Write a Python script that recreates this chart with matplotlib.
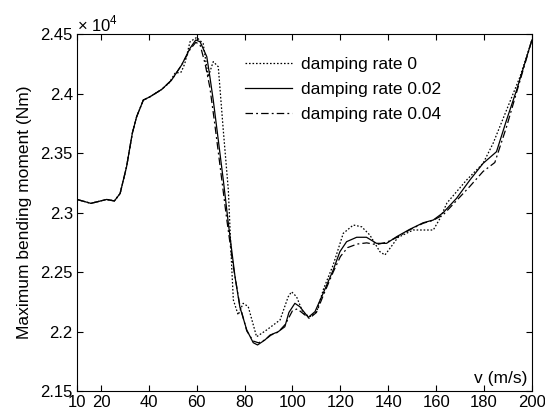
import matplotlib
matplotlib.use("Agg")
import matplotlib.pyplot as plt

plt.rcParams.update({
    "font.family": ["Liberation Sans", "DejaVu Sans"],
    "mathtext.fontset": "custom",
    "mathtext.rm": "Liberation Sans",
    "xtick.direction": "in",
    "ytick.direction": "in",
    "xtick.top": True,
    "ytick.right": True,
})

# speeds (m/s) and max bending moment (x 1e4 Nm)
v_r0 = [10, 15.8, 22.4, 25.6, 28, 30.7, 33.1, 34.9, 37.7, 40.5, 45.4, 48.5, 50.9, 53.5, 55, 57.2,
        60, 62.7, 64.8, 66.9, 69, 71.1, 73.2, 74.6, 75.3, 77.3, 79.4, 81.5, 85, 89.2, 94.8, 98.2,
        99.6, 101.7, 104.5, 107.3, 110.1, 113, 117, 121.2, 125.4, 128.9, 132.3, 136.5, 138.6,
        140.7, 144, 150.4, 158.8, 161.6, 164.5, 172.7, 179.6, 183.8, 189.4, 195, 200]
m_r0 = [2.311, 2.3077, 2.311, 2.3097, 2.316, 2.3385, 2.3666, 2.3805, 2.3945, 2.3973, 2.4035, 2.409,
        2.417, 2.418, 2.425, 2.4435, 2.4472, 2.442, 2.414, 2.4268, 2.4225, 2.369, 2.319, 2.2545,
        2.2265, 2.214, 2.2237, 2.221, 2.1956, 2.2013, 2.2097, 2.2292, 2.2334, 2.2292, 2.2153,
        2.2125, 2.2167, 2.236, 2.256, 2.2825, 2.2895, 2.288, 2.2811, 2.2671, 2.2643, 2.2699,
        2.279, 2.2853, 2.2853, 2.295, 2.308, 2.3273, 2.3413, 2.3582, 2.3861, 2.414, 2.445]

v_r002 = [10, 15.8, 22.4, 25.6, 28, 30.7, 33.1, 34.9, 37.7, 40.5, 45.4, 49.5, 53.7, 57.2, 59.6,
          61.4, 64.2, 65.5, 66.9, 69, 71.1, 73.2, 76, 78, 80.9, 83.6, 85.4, 88.5, 90.6, 94, 96.8,
          98.5, 101, 103.1, 106.6, 109.4, 112.8, 117, 119.8, 122.6, 126.8, 130.9, 135.1, 139.3,
          143.5, 149, 154.6, 158.8, 162.9, 168.5, 174.1, 179.6, 185.2, 189.4, 193.6, 200]
m_r002 = [2.311, 2.3077, 2.311, 2.3097, 2.316, 2.3385, 2.3666, 2.3805, 2.3945, 2.3973, 2.4035,
          2.4113, 2.424, 2.438, 2.445, 2.4435, 2.431, 2.414, 2.3945, 2.361, 2.3273, 2.291, 2.246,
          2.2208, 2.2013, 2.1906, 2.1887, 2.1929, 2.197, 2.1998, 2.204, 2.216, 2.2237, 2.2208,
          2.2119, 2.2167, 2.2321, 2.2517, 2.2671, 2.2755, 2.2792, 2.2792, 2.2741, 2.2741, 2.2797,
          2.2859, 2.2914, 2.2937, 2.2998, 2.3119, 2.3273, 2.3413, 2.3511, 2.3777, 2.4029, 2.445]

v_r004 = [10, 15.8, 22.4, 25.6, 28, 30.7, 33.1, 34.9, 37.7, 40.5, 45.4, 49.5, 53.7, 57.2, 59.6,
          61.4, 63.5, 65.5, 67.5, 70, 72.5, 75, 78, 80.9, 83.6, 85.8, 88.5, 91, 94, 97, 100, 102,
          104.5, 107, 110, 113, 117, 120, 123, 127, 131, 135, 139.3, 143.5, 149, 154.6, 158.8,
          162.9, 168.5, 174.1, 179.6, 184.5, 189.4, 193.6, 200]
m_r004 = [2.311, 2.3077, 2.311, 2.3097, 2.316, 2.3385, 2.3666, 2.3805, 2.3945, 2.3973, 2.4035,
          2.4113, 2.424, 2.437, 2.443, 2.441, 2.425, 2.405, 2.375, 2.335, 2.295, 2.258, 2.222,
          2.2005, 2.192, 2.1905, 2.193, 2.197, 2.1995, 2.206, 2.2175, 2.219, 2.215, 2.211, 2.216,
          2.231, 2.25, 2.263, 2.2705, 2.2735, 2.2745, 2.273, 2.275, 2.279, 2.2855, 2.291, 2.2935,
          2.298, 2.310, 2.322, 2.3345, 2.342, 2.372, 2.401, 2.445]

xticks = [10, 20, 40, 60, 80, 100, 120, 140, 160, 180, 200]
yticks = [2.15, 2.2, 2.25, 2.3, 2.35, 2.4, 2.45]
ytick_labels = ["2.15", "2.2", "2.25", "2.3", "2.35", "2.4", "2.45"]

fig = plt.figure(figsize=(5.45, 4.15), dpi=100)
ax = fig.add_axes([0.1413, 0.0578, 0.8347, 0.8602])

ax.plot(v_r0, m_r0, color="black", lw=0.9, ls=(0, (1.3, 1.5)), label="damping rate 0")
ax.plot(v_r002, m_r002, color="black", lw=0.9, ls="-", label="damping rate 0.02")
ax.plot(v_r004, m_r004, color="black", lw=0.9, ls=(0, (6, 2.5, 1.5, 2.5)), label="damping rate 0.04")

ax.set_xlim(10, 200)
ax.set_ylim(2.15, 2.45)
ax.set_xticks(xticks)
ax.set_yticks(yticks, labels=ytick_labels)
ax.tick_params(labelsize=12, length=4, width=0.8, pad=3)
for s in ax.spines.values():
    s.set_linewidth(0.8)

ax.set_ylabel("Maximum bending moment (Nm)", fontsize=12.5, labelpad=6)
ax.text(0.989, 0.034, "v (m/s)", transform=ax.transAxes, ha="right", va="center", fontsize=12.5)
ax.text(0.0, 1.0, r"× 10$^{4}$", transform=ax.transAxes, ha="left", va="bottom", fontsize=12)

ax.legend(loc="upper left", bbox_to_anchor=(0.369, 0.935), frameon=False, fontsize=12.5,
          handlelength=2.7, handletextpad=0.55, labelspacing=0.55, borderpad=0, borderaxespad=0)

fig.savefig("out.png", dpi=100)
